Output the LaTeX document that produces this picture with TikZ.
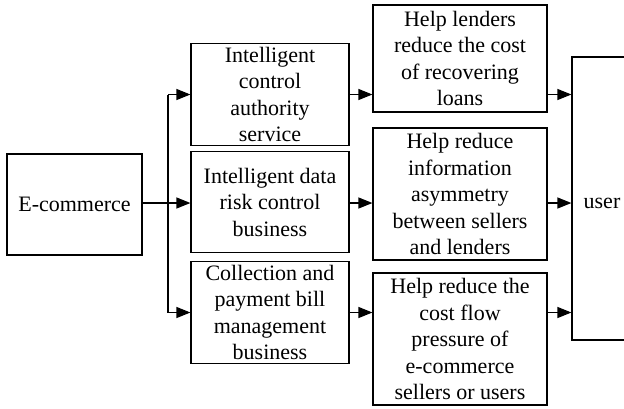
\documentclass[tikz,border=0pt]{standalone}
\usepackage{fontspec}
\setmainfont{Liberation Serif}
\usetikzlibrary{arrows.meta}
\begin{document}
\begin{tikzpicture}[x=1pt,y=-1pt,
  box/.style={draw,line width=1.2pt,inner sep=0pt,align=center,
    font=\fontsize{22}{26.5}\selectfont},
  txt/.style={inner sep=0pt,font=\fontsize{22}{26.5}\selectfont},
  arr/.style={line width=1.2pt,-{Triangle[length=14pt,width=11pt]}},
  ln/.style={line width=1.2pt}]
\useasboundingbox (0,0) rectangle (624,408);
\clip (0,0) rectangle (624,408);
\fill[white] (0,0) rectangle (624,408);
\node[box,minimum width=135pt,minimum height=101pt] (ecom) at (74.5,204.5) {E-commerce};
\node[box,minimum width=158pt,minimum height=102pt] (m1) at (270,94.5) {Intelligent\\control\\authority\\service};
\node[box,minimum width=158pt,minimum height=101pt] (m2) at (270,202) {Intelligent data\\risk control\\business};
\node[box,minimum width=158pt,minimum height=102pt] (m3) at (270,312.5) {Collection and\\payment bill\\management\\business};
\node[box,minimum width=174pt,minimum height=107pt] (r1) at (460,58.5) {Help lenders\\reduce the cost\\of recovering\\loans};
\node[box,minimum width=174pt,minimum height=132pt] (r2) at (460,194) {Help reduce\\information\\asymmetry\\between sellers\\and lenders};
\node[box,minimum width=174pt,minimum height=132pt] (r3) at (460,339) {Help reduce the\\cost flow\\pressure of\\e-commerce\\sellers or users};
\node[box,minimum width=60pt,minimum height=283pt] (user) at (602,198.5) {};
\node[txt] (ulab) at (602,203) {user};
\coordinate (tr) at (168,203);
\draw[ln] (ecom.east |- tr) -- (tr);
\draw[ln] (tr |- m1.east) -- (tr |- m3.east);
\draw[arr] (tr |- m1.east) -- (m1.west);
\draw[arr] (tr) -- (m2.west |- tr);
\draw[arr] (tr |- m3.east) -- (m3.west);
\draw[arr] (m1.east) -- (r1.west |- m1.east);
\draw[arr] (m2.east |- tr) -- (r2.west |- tr);
\draw[arr] (m3.east) -- (r3.west |- m3.east);
\draw[arr] (r1.east |- m1.east) -- (user.west |- m1.east);
\draw[arr] (r2.east |- tr) -- (user.west |- tr);
\draw[arr] (r3.east |- m3.east) -- (user.west |- m3.east);
\end{tikzpicture}
\end{document}
